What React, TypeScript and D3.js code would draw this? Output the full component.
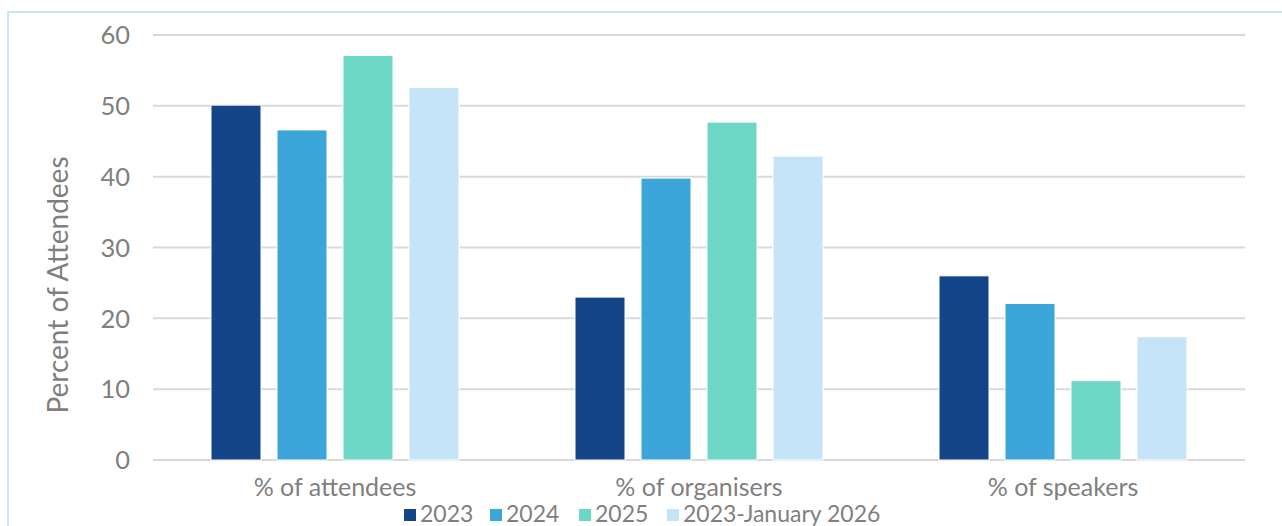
import React from "react";
import * as d3 from "d3";

const categories = ["% of attendees", "% of organisers", "% of speakers"];
const seriesNames = ["2023", "2024", "2025", "2023-January 2026"];
const values2023 = [50.1, 23.0, 26.0];
const values2024 = [46.6, 39.8, 22.1];
const values2025 = [57.1, 47.7, 11.2];
const valuesAll = [52.6, 42.9, 17.4];
const seriesColors = ["#144589", "#3ca6da", "#6cd7c5", "#c5e4f7"];
const yTicks = [0, 10, 20, 30, 40, 50, 60];

const W = 1282;
const H = 526;
const plot = { left: 153, right: 1245, top: 35, bottom: 460 };
const FONT = "Lato, 'Open Sans', sans-serif";
const TEXT = "#7f7f7f";

export default function App() {
  const series = [values2023, values2024, values2025, valuesAll];
  const y = d3.scaleLinear().domain([0, 60]).range([plot.bottom, plot.top]);
  const x0 = d3
    .scaleBand<string>()
    .domain(categories)
    .range([plot.left, plot.right])
    .paddingInner(0)
    .paddingOuter(0);
  const groupInner = 264;
  const x1 = d3
    .scaleBand<string>()
    .domain(seriesNames)
    .range([0, groupInner])
    .paddingInner(16 / 66)
    .paddingOuter(8 / 66);

  const legendX = [404, 490, 579, 667];

  return (
    <svg
      width={W}
      height={H}
      style={{ position: "absolute", left: 0, top: 0, background: "#fff" }}
      fontFamily={FONT}
    >
      <rect x={8} y={12} width={W + 20} height={H + 20} fill="#fff" stroke="#c7e4f8" strokeWidth={2} />

      {yTicks.map((t) => (
        <g key={t}>
          <line x1={plot.left} x2={plot.right} y1={y(t)} y2={y(t)} stroke="#d9d9d9" strokeWidth={2} />
          <text x={130} y={y(t)} dy="0.36em" textAnchor="end" fontSize={25.5} fill={TEXT}>
            {t}
          </text>
        </g>
      ))}

      <text
        transform={`translate(68, ${285}) rotate(-90)`}
        textAnchor="middle"
        fontSize={28}
        fill={TEXT}
      >
        Percent of Attendees
      </text>

      {categories.map((c, ci) => {
        const gx = (x0(c) as number) + (x0.bandwidth() - groupInner) / 2;
        return (
          <g key={c}>
            {seriesNames.map((s, si) => {
              const v = series[si][ci];
              return (
                <rect
                  key={s}
                  x={gx + (x1(s) as number)}
                  y={y(v)}
                  width={x1.bandwidth()}
                  height={y(0) - y(v)}
                  fill={seriesColors[si]}
                  stroke="#fff"
                  strokeWidth={1}
                />
              );
            })}
            <text
              x={(x0(c) as number) + x0.bandwidth() / 2}
              y={496}
              textAnchor="middle"
              fontSize={25}
              fill={TEXT}
            >
              {c}
            </text>
          </g>
        );
      })}

      {seriesNames.map((s, si) => (
        <g key={s}>
          <rect x={legendX[si]} y={509} width={12} height={12} fill={seriesColors[si]} />
          <text x={legendX[si] + 16} y={522} fontSize={23} fill={TEXT}>
            {s}
          </text>
        </g>
      ))}
    </svg>
  );
}
